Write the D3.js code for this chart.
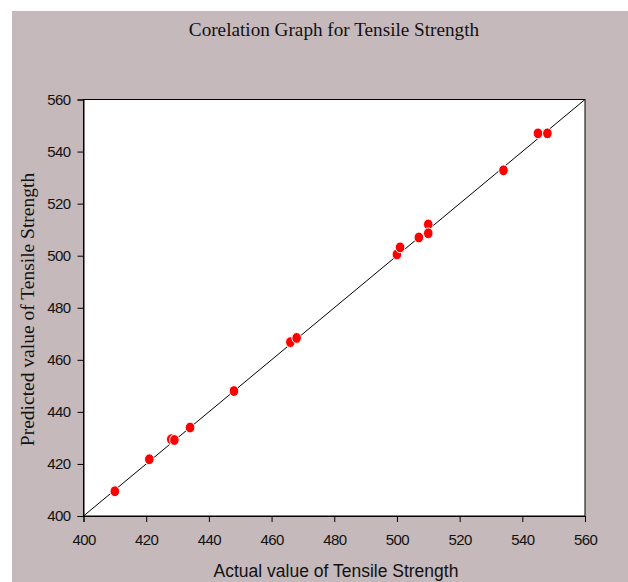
<!DOCTYPE html>
<html>
<head>
<meta charset="utf-8">
<script src="https://cdn.jsdelivr.net/npm/d3@7"></script>
<style>
  body { margin: 0; background: #fff; }
  svg { display: block; }
</style>
</head>
<body>
<svg id="chart" width="628" height="582"></svg>
<script>
// actual vs predicted tensile strength
const actual    = [410, 421, 428, 429, 434, 448, 466, 468, 500, 501, 507, 510, 510, 534, 545, 548];
const predicted = [409.5, 421.8, 429.5, 429.2, 434, 448, 466.8, 468.4, 500.5, 503.2, 507, 512, 508.6, 532.8, 547, 547];
const ticks = [400, 420, 440, 460, 480, 500, 520, 540, 560];

const svg = d3.select("#chart");
const W = 628, H = 582;
const m = { left: 83.5, right: 585, top: 99.5, bottom: 516 };

// grey panel
svg.append("rect").attr("x", 12).attr("y", 11).attr("width", W - 12).attr("height", H - 11)
    .attr("fill", "#c5b9bc");

const x = d3.scaleLinear().domain([400, 560]).range([m.left, m.right]);
const y = d3.scaleLinear().domain([400, 560]).range([m.bottom, m.top]);

svg.append("rect")
    .attr("x", m.left).attr("y", m.top)
    .attr("width", m.right - m.left).attr("height", m.bottom - m.top)
    .attr("fill", "#fff").attr("stroke", "#000").attr("stroke-width", 1);

// axes
const xAxis = svg.append("g").attr("transform", `translate(0,${m.bottom})`)
    .call(d3.axisBottom(x).tickValues(ticks).tickSize(6).tickPadding(12));
const yAxis = svg.append("g").attr("transform", `translate(${m.left},0)`)
    .call(d3.axisLeft(y).tickValues(ticks).tickSize(6).tickPadding(7));
[xAxis, yAxis].forEach(g => {
    g.select(".domain").attr("stroke", "#000");
    g.selectAll(".tick line").attr("stroke", "#000");
    g.selectAll("text").attr("font-family", "Liberation Sans, Arial, sans-serif")
        .attr("font-size", 15).attr("letter-spacing", "-0.6px").attr("fill", "#111");
});

// 45 degree line
svg.append("line")
    .attr("x1", x(400)).attr("y1", y(400)).attr("x2", x(560)).attr("y2", y(560))
    .attr("stroke", "#000").attr("stroke-width", 1);

// points
svg.append("g").selectAll("ellipse")
    .data(actual.map((a, i) => [a, predicted[i]]))
    .join("ellipse")
    .attr("cx", d => x(d[0])).attr("cy", d => y(d[1])).attr("rx", 4.8).attr("ry", 5.4)
    .attr("fill", "#ff0000").attr("stroke", "#fff").attr("stroke-width", 1);

// titles
svg.append("text").attr("x", 334).attr("y", 36).attr("text-anchor", "middle")
    .attr("font-family", "Liberation Serif, Times New Roman, serif").attr("font-size", 19.2)
    .attr("fill", "#111").text("Corelation Graph for Tensile Strength");

svg.append("text").attr("transform", "translate(34,309.5) rotate(-90)").attr("text-anchor", "middle")
    .attr("font-family", "Liberation Serif, Times New Roman, serif").attr("font-size", 19.5)
    .attr("fill", "#111").text("Predicted value of Tensile Strength");

svg.append("text").attr("x", 336).attr("y", 577).attr("text-anchor", "middle")
    .attr("font-family", "Liberation Sans, Arial, sans-serif").attr("font-size", 17.5)
    .attr("fill", "#111").text("Actual value of Tensile Strength");
</script>
</body>
</html>
